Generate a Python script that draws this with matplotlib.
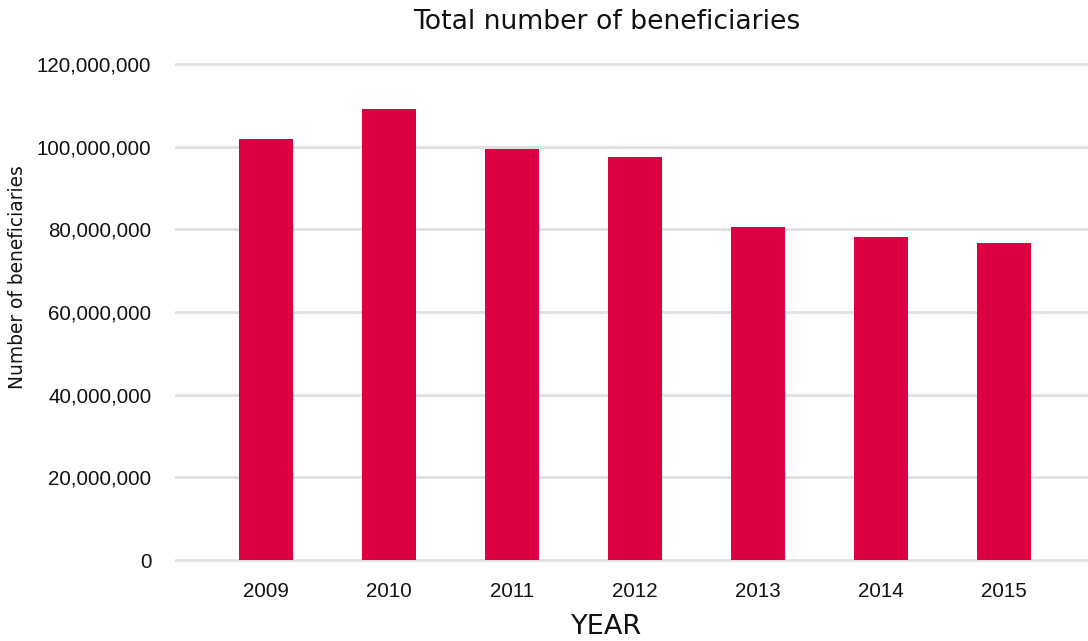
import numpy as np
import matplotlib
matplotlib.use("Agg")
import matplotlib.pyplot as plt
from matplotlib.ticker import FuncFormatter

years = ["2009", "2010", "2011", "2012", "2013", "2014", "2015"]
beneficiaries = [101.9e6, 109.1e6, 99.4e6, 97.5e6, 80.6e6, 78.2e6, 76.7e6]
y_ticks = [0, 20e6, 40e6, 60e6, 80e6, 100e6, 120e6]

W, H = 1088, 641
fig = plt.figure(figsize=(W / 100, H / 100), dpi=100)

# axes placed in pixel terms, y range padded by 1M on each side
px_per_m = (560 - 64) / 120.0
bot_px = 560 + px_per_m * 1
top_px = 64 - px_per_m * 1
ax = fig.add_axes([175 / W, (H - bot_px) / H, (1088 - 175) / W, (bot_px - top_px) / H])

x = np.arange(len(years))
ax.bar(x, beneficiaries, width=0.44, color="#DC0042", zorder=3)

ax.set_xlim(-0.74, 6.68)
ax.set_ylim(-1e6, 121e6)
ax.set_yticks(y_ticks)
ax.yaxis.set_major_formatter(FuncFormatter(lambda v, p: "{:,.0f}".format(v)))
ax.set_xticks(x)
ax.set_xticklabels(years)

ax.grid(axis="y", color="#E0E0E0", linewidth=2, zorder=0)
for s in ax.spines.values():
    s.set_visible(False)
ax.tick_params(axis="both", length=0, labelsize=14.8, labelcolor="#111111")
ax.tick_params(axis="y", pad=17)
ax.tick_params(axis="x", pad=13)
for lab in ax.get_xticklabels() + ax.get_yticklabels():
    lab.set_family("Liberation Sans")

fig.text(607 / W, 1 - 22 / H, "Total number of beneficiaries", ha="center",
         va="center", fontsize=19.2, family="DejaVu Sans", color="#111111")
fig.text(18 / W, 1 - 277 / H, "Number of beneficiaries", ha="center",
         va="center", rotation=90, fontsize=13.4, family="DejaVu Sans",
         color="#111111")
fig.text(607 / W, 1 - 627 / H, "YEAR", ha="center", va="center",
         fontsize=19.5, family="DejaVu Sans", color="#111111")

fig.savefig("out.png", dpi=100)
